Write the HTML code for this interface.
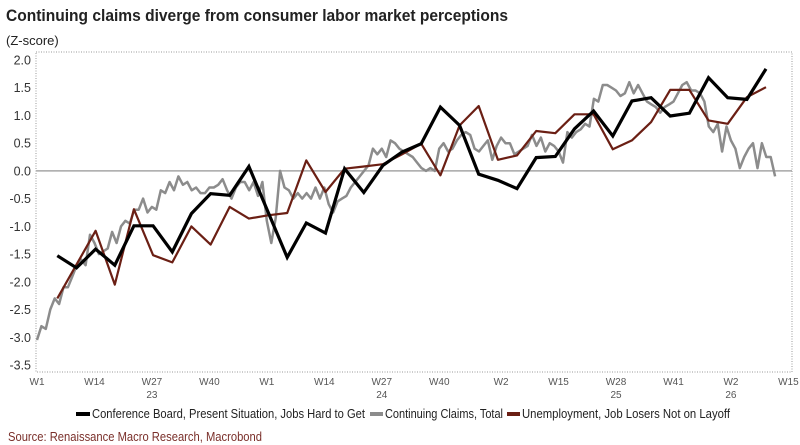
<!DOCTYPE html>
<html><head><meta charset="utf-8">
<style>
body{margin:0;background:#fff;width:800px;height:445px;overflow:hidden;font-family:"Liberation Sans",sans-serif;}
svg{display:block}
</style></head>
<body>
<svg id="chart" width="800" height="445">
<text x="6" y="21" font-size="17" font-weight="bold" fill="#222" textLength="502" lengthAdjust="spacingAndGlyphs">Continuing claims diverge from consumer labor market perceptions</text>
<text x="6" y="45" font-size="13" fill="#222">(Z-score)</text>
<rect x="36" y="52" width="756" height="320" fill="none" stroke="#999" stroke-dasharray="1,1.5"/>
<g id="yaxis"></g>
<g id="xaxis"></g>
<g id="series"></g>
<g>
<g><rect x="76" y="412" width="14" height="4" fill="#000"/><text x="92" y="418" font-size="13" fill="#222" textLength="273" lengthAdjust="spacingAndGlyphs">Conference Board, Present Situation, Jobs Hard to Get</text></g>
<g><rect x="370" y="412" width="13" height="4" fill="#8c8c8c"/><text x="385" y="418" font-size="13" fill="#222" textLength="118" lengthAdjust="spacingAndGlyphs">Continuing Claims, Total</text></g>
<g><rect x="507" y="412" width="13" height="4" fill="#6b1f14"/><text x="522" y="418" font-size="13" fill="#222" textLength="208" lengthAdjust="spacingAndGlyphs">Unemployment, Job Losers Not on Layoff</text></g>
</g>
<text x="8" y="441" font-size="12.5" fill="#7a2f2a" textLength="254" lengthAdjust="spacingAndGlyphs">Source: Renaissance Macro Research, Macrobond</text>
</svg>
<script>
const yTicks=[2.0,1.5,1.0,0.5,0.0,-0.5,-1.0,-1.5,-2.0,-2.5,-3.0,-3.5];
const xTickWeeks=[0,13,26,39,52,65,78,91,105,118,131,144,157,170];
const xTickLabels=["W1","W14","W27","W40","W1","W14","W27","W40","W2","W15","W28","W41","W2","W15"];
const yearWeeks=[26,78,131,157];
const yearLabels=["23","24","25","26"];
const boardValues=[-1.53,-1.75,-1.41,-1.70,-0.99,-0.99,-1.46,-0.77,-0.41,-0.44,0.08,-0.74,-1.56,-0.94,-1.12,0.04,-0.39,0.10,0.34,0.49,1.15,0.82,-0.06,-0.17,-0.32,0.24,0.26,0.76,1.08,0.63,1.26,1.32,0.99,1.04,1.68,1.32,1.29,1.84];
const unempValues=[-2.30,-1.69,-1.08,-2.05,-0.69,-1.52,-1.65,-1.00,-1.33,-0.65,-0.86,-0.80,-0.76,0.19,-0.38,0.04,0.08,0.12,0.30,0.49,-0.08,0.82,1.17,0.20,0.28,0.72,0.68,1.02,1.02,0.39,0.55,0.88,1.46,1.46,0.91,0.85,1.33,1.51];
const claimsValues=[-3.05,-2.8,-2.85,-2.5,-2.3,-2.4,-2.1,-2.1,-1.9,-1.7,-1.6,-1.7,-1.15,-1.3,-1.5,-1.45,-1.4,-1.1,-1.3,-1.0,-0.9,-0.95,-0.7,-0.7,-0.5,-0.75,-0.65,-0.7,-0.35,-0.4,-0.2,-0.35,-0.1,-0.25,-0.2,-0.35,-0.3,-0.4,-0.4,-0.3,-0.3,-0.25,-0.15,-0.35,-0.5,-0.3,-0.2,-0.2,-0.35,-0.2,-0.45,-0.2,-0.9,-1.3,-0.85,0.0,-0.3,-0.35,-0.5,-0.4,-0.5,-0.4,-0.5,-0.3,-0.5,-0.3,-0.6,-0.75,-0.55,-0.5,-0.45,-0.3,-0.2,-0.1,0.0,0.1,0.4,0.3,0.4,0.25,0.55,0.5,
0.4,0.35,0.3,0.25,0.15,0.05,0.0,0.05,0.0,0.4,0.5,0.35,0.4,0.55,0.65,0.7,0.65,0.4,0.35,0.45,0.55,0.2,0.45,0.6,0.5,0.5,0.3,0.35,0.4,0.45,0.65,0.45,0.6,0.35,0.5,0.45,0.35,0.15,0.7,0.6,0.7,0.75,0.85,0.8,1.3,1.25,1.55,1.55,1.5,1.45,1.35,1.4,1.6,1.4,1.55,1.4,1.25,1.2,1.15,1.05,1.15,1.2,1.25,1.4,1.55,1.6,1.45,1.45,1.4,1.25,0.8,0.7,0.85,0.35,0.8,0.55,0.4,0.05,0.25,0.4,0.5,0.05,0.5,0.25,0.25,-0.1];
const NS="http://www.w3.org/2000/svg";
function xScale(w){return 37+w*4.42;}
function yScale(v){return 170.9-v*55.45;}
function monthWeek(i){return 4.6+i*52/12;}
function mk(tag,attrs,parent){const e=document.createElementNS(NS,tag);for(const k in attrs)e.setAttribute(k,attrs[k]);parent.appendChild(e);return e;}
const yaxis=document.getElementById('yaxis');
yTicks.forEach(v=>{
  const t=mk('text',{x:31,y:yScale(v)+4.5,'font-size':12.5,'text-anchor':'end',fill:'#333'},yaxis);
  t.textContent=v.toFixed(1);
  
  
});
const zl=mk('line',{x1:36,x2:792,y1:yScale(0),y2:yScale(0),stroke:'#a6a6a6','stroke-width':1.5},yaxis);


const xaxis=document.getElementById('xaxis');
xTickWeeks.forEach((w,i)=>{
  const t=mk('text',{x:xScale(w),y:385,'font-size':10,'text-anchor':'middle',fill:'#555'},xaxis);
  t.textContent=xTickLabels[i];
  
  
});
yearWeeks.forEach((w,i)=>{
  const t=mk('text',{x:xScale(w),y:398,'font-size':10,'text-anchor':'middle',fill:'#555'},xaxis);
  t.textContent=yearLabels[i];
  
  
});
const series=document.getElementById('series');
function pts(vals,wk){return vals.map((v,i)=>xScale(wk(i)).toFixed(1)+','+yScale(v).toFixed(1)).join(' ');}
const g=mk('polyline',{points:pts(claimsValues,i=>i),fill:'none',stroke:'#8c8c8c','stroke-width':2.5,'stroke-linejoin':'round'},series);


const r=mk('polyline',{points:pts(unempValues,monthWeek),fill:'none',stroke:'#6b1f14','stroke-width':2.2,'stroke-linejoin':'round'},series);


const b=mk('polyline',{points:pts(boardValues,monthWeek),fill:'none',stroke:'#000','stroke-width':3.2,'stroke-linejoin':'miter'},series);


</script>
</body></html>
